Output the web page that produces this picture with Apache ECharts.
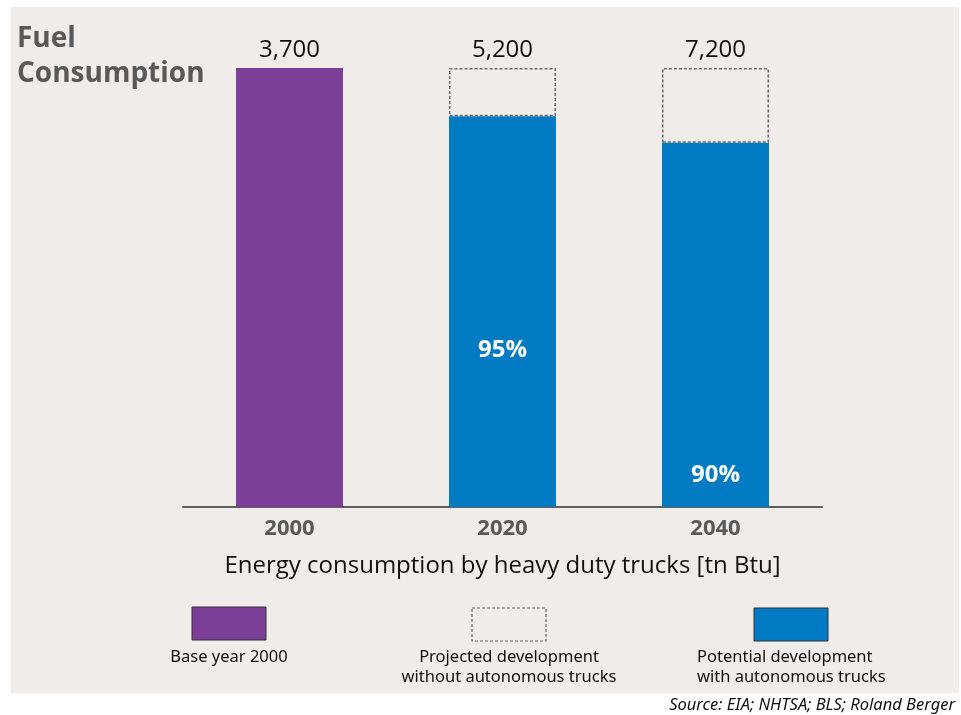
<!DOCTYPE html>
<html>
<head>
<meta charset="utf-8">
<script src="https://cdn.jsdelivr.net/npm/echarts@6/dist/echarts.min.js"></script>
<style>
  html, body { margin: 0; padding: 0; background: #fff; }
  #chart { width: 961px; height: 715px; }
</style>
</head>
<body>
<div id="chart"></div>
<script>
// data
const years = ['2000', '2020', '2040']
const totals = ['3,700', '5,200', '7,200']          // tn Btu, printed above bars
const baseShare = [100, '-', '-']                    // bar height as % of own total
const withAuto = ['-', 89, 83]
const withoutAuto = ['-', 11, 17]
const pctLabels = ['', '95%', '90%']
const pctDist = [0, 145, 20]   // label offset from bar bottom (style only)

const FONT = '"Open Sans", "Noto Sans", sans-serif'
const SMALL = '"Noto Sans", sans-serif'
const PURPLE = '#7b3f97'
const BLUE = '#007ac3'

const chart = echarts.init(document.getElementById('chart'))

const topLabel = {
  show: true,
  position: 'top',
  distance: 6,
  color: '#111',
  fontFamily: FONT,
  fontSize: 24,
  formatter: (p) => totals[p.dataIndex]
}

var option = {
  backgroundColor: '#fff',
  animation: false,
  title: {
    text: 'Fuel\nConsumption',
    left: 12,
    top: 17,
    textStyle: {
      color: '#595959',
      fontFamily: FONT,
      fontWeight: 'bold',
      fontSize: 28,
      lineHeight: 35
    }
  },
  grid: {
    left: 183,
    right: 139,
    top: 68,
    bottom: 208,
    containLabel: false
  },
  xAxis: {
    type: 'category',
    data: years,
    axisLine: { lineStyle: { color: '#5f5f5f', width: 2 } },
    axisTick: { show: false },
    axisLabel: {
      color: '#595959',
      fontFamily: FONT,
      fontWeight: 'bold',
      fontSize: 22,
      margin: 11
    },
    name: 'Energy consumption by heavy duty trucks [tn Btu]',
    nameLocation: 'middle',
    nameGap: 47,
    nameTextStyle: {
      color: '#111',
      fontFamily: FONT,
      fontSize: 24
    }
  },
  yAxis: {
    type: 'value',
    min: 0,
    max: 100,
    show: false,
    splitLine: { show: false }
  },
  graphic: [
    {
      type: 'rect',
      z: -10,
      silent: true,
      shape: { x: 11, y: 7, width: 948, height: 686 },
      style: { fill: '#f0ece9' }
    },
    // legend
    {
      type: 'rect',
      shape: { x: 192, y: 607, width: 74, height: 33 },
      style: { fill: PURPLE, stroke: '#333', lineWidth: 1 }
    },
    {
      type: 'rect',
      shape: { x: 472, y: 608, width: 74, height: 33 },
      style: { fill: 'none', stroke: '#666', lineWidth: 1.2, lineDash: [3, 2] }
    },
    {
      type: 'rect',
      shape: { x: 754, y: 608, width: 74, height: 33 },
      style: { fill: BLUE, stroke: '#333', lineWidth: 1 }
    },
    {
      type: 'text',
      style: {
        x: 229, y: 657, text: 'Base year 2000',
        fill: '#111', font: '16.5px ' + SMALL, align: 'center', verticalAlign: 'middle'
      }
    },
    {
      type: 'text',
      style: {
        x: 509, y: 667, text: 'Projected development\nwithout autonomous trucks',
        fill: '#111', font: '16.5px ' + SMALL, lineHeight: 20,
        align: 'center', verticalAlign: 'middle'
      }
    },
    {
      type: 'text',
      style: {
        x: 697, y: 667, text: 'Potential development\nwith autonomous trucks',
        fill: '#111', font: '16.5px ' + SMALL, lineHeight: 20,
        align: 'left', verticalAlign: 'middle'
      }
    },
    {
      type: 'text',
      style: {
        x: 955, y: 705, text: 'Source: EIA; NHTSA; BLS; Roland Berger',
        fill: '#111', font: 'italic 16.5px ' + SMALL,
        align: 'right', verticalAlign: 'middle'
      }
    }
  ],
  series: [
    {
      name: 'Base year 2000',
      type: 'bar',
      stack: 'a',
      barWidth: 107,
      itemStyle: { color: PURPLE },
      label: topLabel,
      data: baseShare
    },
    {
      name: 'Potential development with autonomous trucks',
      type: 'bar',
      stack: 'a',
      barWidth: 107,
      itemStyle: { color: BLUE },
      data: withAuto.map((v, i) => ({
        value: v,
        label: {
          show: pctLabels[i] !== '',
          position: 'insideBottom',
          distance: pctDist[i],
          formatter: pctLabels[i],
          color: '#fff',
          fontFamily: FONT,
          fontWeight: 'bold',
          fontSize: 24
        }
      }))
    },
    {
      name: 'Projected development without autonomous trucks',
      type: 'bar',
      stack: 'a',
      barWidth: 107,
      itemStyle: {
        color: 'rgba(0,0,0,0)',
        borderColor: '#6a6a6a',
        borderWidth: 1.5,
        borderType: [3, 2]
      },
      label: topLabel,
      data: withoutAuto
    }
  ]
}

chart.setOption(option)
</script>
</body>
</html>
